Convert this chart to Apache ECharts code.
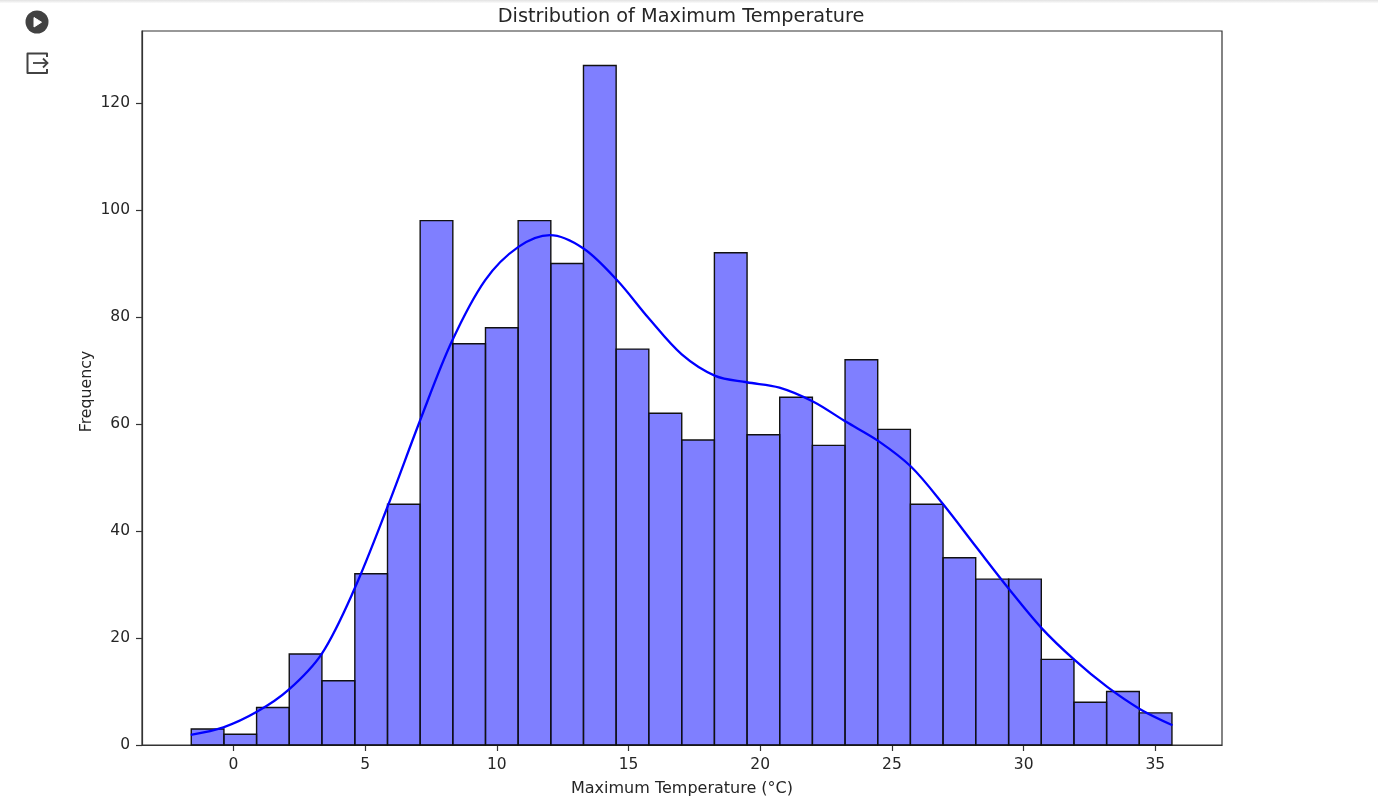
<!DOCTYPE html>
<html>
<head>
<meta charset="utf-8">
<style>html,body{margin:0;padding:0;background:#fff}#chart{width:1378px;height:799px}</style>
<script src="https://cdn.jsdelivr.net/npm/echarts@6/dist/echarts.min.js"></script>
</head>
<body>
<div id="chart"></div>
<script>
const binEdges = [-1.6,-0.36,0.88,2.12,3.36,4.61,5.85,7.09,8.33,9.57,10.81,12.05,13.29,14.53,15.77,17.02,18.26,19.5,20.74,21.98,23.22,24.46,25.7,26.94,28.18,29.43,30.67,31.91,33.15,34.39,35.63];
const binCounts = [3,2,7,17,12,32,45,98,75,78,98,90,127,74,62,57,92,58,65,56,72,59,45,35,31,31,16,8,10,6];
const kdeX = [-1.62,-0.38,0.89,2.09,3.36,4.58,5.88,7.09,8.29,9.56,10.82,12.02,13.29,14.56,15.76,17.02,18.29,19.49,20.73,22.0,23.26,24.49,25.73,26.96,28.2,29.42,30.69,31.93,33.16,34.42,35.65];
const kdeY = [1.9,3.3,6.2,10.3,17.1,29,44.9,60.7,75.4,86.9,93.1,95.3,92.8,86.9,79.8,73,69,67.8,66.8,64.2,60.4,56.8,52,44.9,37,29.3,21.8,15.9,10.9,6.7,3.7];
const xTicks = [0,5,10,15,20,25,30,35];
const yTicks = [0,20,40,60,80,100,120];
const titleText = 'Distribution of Maximum Temperature';
const xLabel = 'Maximum Temperature (°C)';
const yLabel = 'Frequency';

const font = 'DejaVu Sans';
const textColor = '#262626';
const barData = binCounts.map((c, i) => [binEdges[i], binEdges[i + 1], c]);
const lineData = kdeX.map((x, i) => [x, kdeY[i]]);

const chart = echarts.init(document.getElementById('chart'), null, {renderer: 'canvas'});
chart.setOption({
  animation: false,
  backgroundColor: '#fff',
  title: {
    text: titleText, left: 676, top: 2, textAlign: 'center',
    textStyle: {fontFamily: font, fontSize: 19.3, fontWeight: 'normal', color: textColor}
  },
  grid: {left: 142, top: 31, width: 1080, height: 714, show: true, borderColor: '#333', borderWidth: 1.2, backgroundColor: 'transparent', outerBoundsMode: 'none'},
  xAxis: {
    type: 'value', min: -3.47, max: 37.53,
    name: xLabel, nameLocation: 'middle', nameGap: 36, nameMoveOverlap: false,
    nameTextStyle: {fontFamily: font, fontSize: 16, color: textColor},
    splitLine: {show: false},
    axisLine: {show: true, onZero: false, lineStyle: {color: '#333', width: 1.2}},
    axisTick: {show: true, length: 6, customValues: xTicks, lineStyle: {color: '#333', width: 1.2}},
    axisLabel: {customValues: xTicks, margin: 12, fontFamily: font, fontSize: 15.5, color: textColor}
  },
  yAxis: {
    type: 'value', min: 0, max: 133.45,
    name: yLabel, nameLocation: 'middle', nameGap: 47, nameRotate: 90, nameMoveOverlap: false,
    nameTextStyle: {fontFamily: font, fontSize: 15.8, color: textColor, padding: [0, 7, 0, 0]},
    splitLine: {show: false},
    axisLine: {show: true, onZero: false, lineStyle: {color: '#333', width: 1.2}},
    axisTick: {show: true, length: 6, customValues: yTicks, lineStyle: {color: '#333', width: 1.2}},
    axisLabel: {customValues: yTicks, margin: 12, fontFamily: font, fontSize: 15.5, color: textColor}
  },
  series: [
    {
      type: 'custom',
      data: barData,
      encode: {x: [0, 1], y: 2},
      renderItem: function (params, api) {
        const p0 = api.coord([api.value(0), 0]);
        const p1 = api.coord([api.value(1), api.value(2)]);
        return {
          type: 'rect',
          shape: {x: p0[0], y: p1[1], width: p1[0] - p0[0], height: p0[1] - p1[1]},
          style: {fill: 'rgba(0,0,255,0.5)', stroke: '#111', lineWidth: 1.4}
        };
      },
      z: 2
    },
    {
      type: 'line',
      data: lineData,
      smooth: 0.33,
      showSymbol: false,
      symbol: 'none',
      lineStyle: {color: '#0000ff', width: 2.3},
      z: 3
    }
  ],
  graphic: [
    {type: 'rect', shape: {x: 0, y: 0, width: 1378, height: 3}, style: {fill: new echarts.graphic.LinearGradient(0,0,0,1,[{offset:0,color:'#e2e2e2'},{offset:1,color:'#fbfbfb'}])}, silent: true},
    {type: 'circle', shape: {cx: 37, cy: 22, r: 11.5}, style: {fill: '#424242'}, silent: true},
    {type: 'polygon', shape: {points: [[34, 17.5], [34, 27], [41.5, 22.2]]}, style: {fill: '#fff', stroke: '#fff', lineWidth: 1, lineJoin: 'round'}, silent: true},
    {type: 'polyline', shape: {points: [[47, 57], [47, 53.5], [27.5, 53.5], [27.5, 73], [47, 73], [47, 69]]}, style: {fill: 'none', stroke: '#424242', lineWidth: 2, lineJoin: 'round'}, silent: true},
    {type: 'polyline', shape: {points: [[33, 63], [47.5, 63]]}, style: {fill: 'none', stroke: '#424242', lineWidth: 1.8}, silent: true},
    {type: 'polyline', shape: {points: [[43, 58.5], [47.5, 63], [43, 67.5]]}, style: {fill: 'none', stroke: '#424242', lineWidth: 1.8}, silent: true}
  ]
});
</script>
</body>
</html>
